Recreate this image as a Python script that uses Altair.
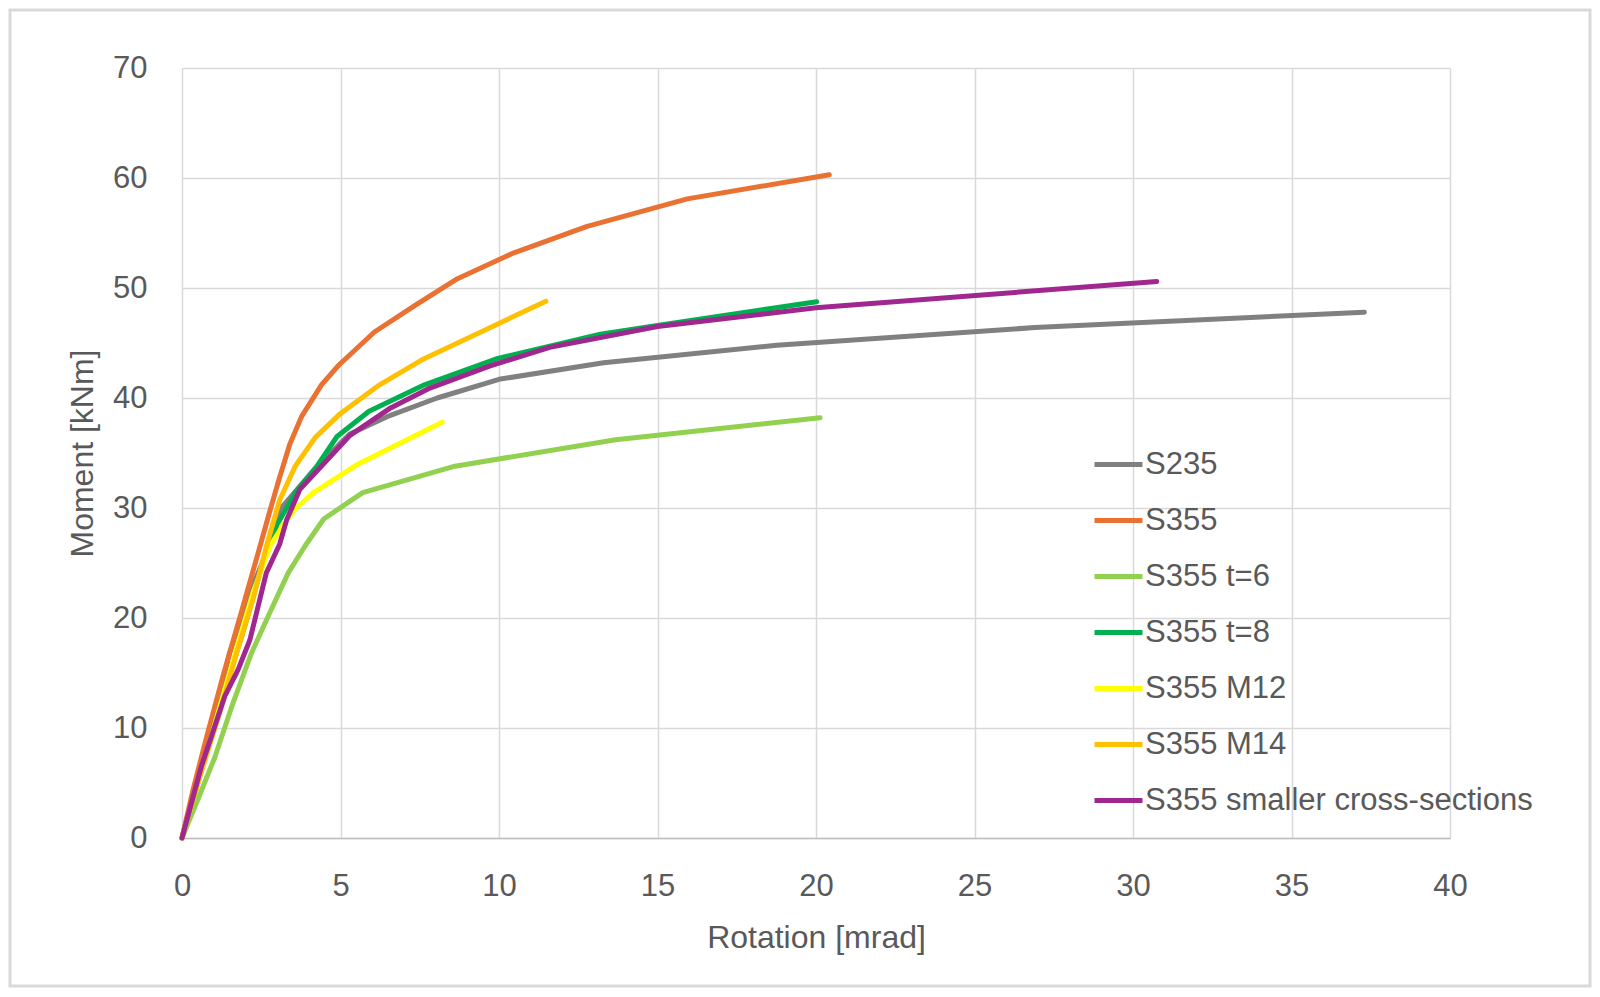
import altair as alt
import pandas as pd

# ---- data ----
series_names = ["S235", "S355", "S355 t=6", "S355 t=8", "S355 M12", "S355 M14",
                "S355 smaller cross-sections"]
series_colors = ["#808080", "#e97132", "#92d050", "#00b050", "#ffff00", "#ffc000", "#a0278f"]

s235_x = [0, 0.4, 0.9, 1.5, 2.1, 2.66, 3.1, 4.2, 5.28, 6.47, 8.05, 10.0, 13.3, 18.76, 26.9, 37.3]
s235_y = [0, 4.6, 9.5, 16.8, 22.0, 25.9, 29.9, 33.6, 36.7, 38.3, 40.0, 41.7, 43.2, 44.8, 46.4, 47.8]

s355_x = [0, 0.35, 0.77, 1.29, 1.87, 2.4, 2.77, 3.05, 3.4, 3.77, 4.4, 4.95, 6.07, 7.34, 8.69,
          10.47, 12.78, 15.94, 20.42]
s355_y = [0, 4.4, 9.1, 14.7, 20.5, 25.9, 29.7, 32.5, 35.8, 38.3, 41.2, 43.0, 46.0, 48.4, 50.85,
          53.2, 55.6, 58.1, 60.3]

t6_x = [0, 0.5, 1.03, 1.6, 2.19, 2.66, 3.35, 3.87, 4.47, 5.7, 8.61, 13.68, 20.13]
t6_y = [0, 3.5, 7.3, 12.2, 16.8, 19.8, 24.1, 26.5, 29.0, 31.4, 33.8, 36.2, 38.2]

t8_x = [0, 0.6, 1.3, 1.9, 2.5, 3.0, 3.6, 4.21, 4.89, 5.9, 7.65, 9.96, 13.2, 15.0, 20.02]
t8_y = [0, 6.0, 13.0, 18.5, 24.5, 28.5, 31.5, 33.6, 36.5, 38.8, 41.2, 43.6, 45.8, 46.6, 48.75]

m12_x = [0, 0.6, 1.2, 1.8, 2.24, 2.77, 3.2, 3.6, 4.15, 5.5, 8.21]
m12_y = [0, 6.0, 12.0, 18.0, 22.3, 26.5, 28.5, 30.0, 31.4, 33.9, 37.8]

m14_x = [0, 0.5, 1.2, 1.72, 2.24, 2.66, 3.08, 3.57, 4.2, 5.0, 6.18, 7.62, 11.48]
m14_y = [0, 5.0, 11.5, 16.8, 21.7, 26.5, 30.7, 33.8, 36.4, 38.6, 41.1, 43.55, 48.8]

small_x = [0, 0.61, 1.35, 1.77, 2.14, 2.66, 3.08, 3.3, 3.72, 4.27, 5.3, 6.58, 7.82, 9.7, 11.6,
           15.0, 20.0, 30.75]
small_y = [0, 6.5, 12.9, 15.3, 18.0, 24.1, 26.7, 28.9, 31.7, 33.4, 36.6, 39.1, 40.9, 42.9, 44.6,
           46.5, 48.2, 50.6]

x_ticks = [0, 5, 10, 15, 20, 25, 30, 35, 40]
y_ticks = [0, 10, 20, 30, 40, 50, 60, 70]

all_x = [s235_x, s355_x, t6_x, t8_x, m12_x, m14_x, small_x]
all_y = [s235_y, s355_y, t6_y, t8_y, m12_y, m14_y, small_y]

rows = []
for k, (name, xs, ys) in enumerate(zip(series_names, all_x, all_y)):
    for i, (xv, yv) in enumerate(zip(xs, ys)):
        rows.append({"series": name, "sidx": k, "idx": i, "rotation": xv, "moment": yv})
df = pd.DataFrame(rows)

FONT = "Liberation Sans"
TXT = "#595959"
GRID = "#d9d9d9"
W, H = 1268, 770

lines = alt.Chart(df).mark_line(strokeWidth=5, strokeCap="round", strokeJoin="round").encode(
    x=alt.X("rotation:Q", scale=alt.Scale(domain=[0, 40], nice=False),
            axis=alt.Axis(values=x_ticks, title="Rotation [mrad]", grid=True, gridColor=GRID,
                          gridWidth=1.5, domainColor="#bfbfbf", domainWidth=1.5, ticks=False,
                          labelFlush=False, labelOverlap=False,
                          labelFontSize=31, labelColor=TXT, labelFont=FONT, labelPadding=33,
                          titleFontSize=32, titleColor=TXT, titleFont=FONT,
                          titleFontWeight="normal", titleBaseline="alphabetic", titleY=109)),
    y=alt.Y("moment:Q", scale=alt.Scale(domain=[0, 70], nice=False),
            axis=alt.Axis(values=y_ticks, title="Moment [kNm]", grid=True, gridColor=GRID,
                          gridWidth=1.5, domain=False, ticks=False,
                          labelFlush=False, labelOverlap=False,
                          labelFontSize=31, labelColor=TXT, labelFont=FONT, labelPadding=35,
                          titleFontSize=32, titleColor=TXT, titleFont=FONT,
                          titleFontWeight="normal", titleBaseline="alphabetic",
                          titleX=-90, titleY=385, titleAngle=270)),
    color=alt.Color("series:N", sort=series_names,
                    scale=alt.Scale(domain=series_names, range=series_colors),
                    legend=alt.Legend(title=None, orient="none", legendX=910, legendY=370,
                                      symbolType="stroke", symbolSize=2304,
                                      symbolStrokeWidth=5, labelFontSize=31,
                                      labelFont=FONT, labelColor=TXT, labelOffset=0,
                                      rowPadding=14, padding=0, labelLimit=600)),
    order=alt.Order("idx:Q"),
)

frame = alt.Chart(pd.DataFrame({"a": [0]})).mark_rect(
    fill="transparent", stroke=GRID, strokeWidth=3
).encode(
    x=alt.value(-172), x2=alt.value(W + 140), y=alt.value(-58), y2=alt.value(H + 148)
)

chart = alt.layer(frame, lines).properties(
    width=W, height=H,
    autosize=alt.AutoSizeParams(type="none"),
    padding={"left": 174, "top": 60, "right": 142, "bottom": 151},
    background="white",
).configure_view(stroke=None)

chart.save("out.html", embed_options={"renderer": "svg", "actions": False})
